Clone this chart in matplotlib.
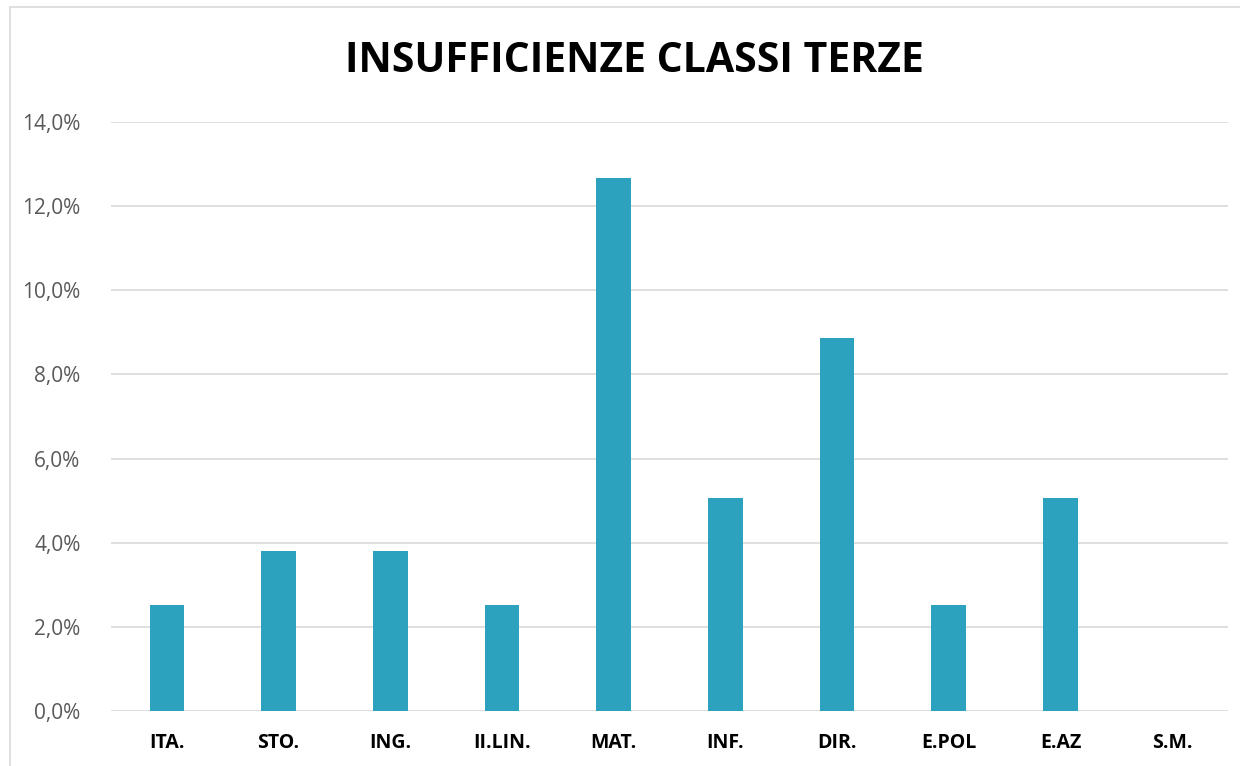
import matplotlib
matplotlib.use("Agg")
import matplotlib.pyplot as plt
from matplotlib.patches import Rectangle
from matplotlib.ticker import FuncFormatter

categories = ["ITA.", "STO.", "ING.", "II.LIN.", "MAT.", "INF.", "DIR.", "E.POL", "E.AZ", "S.M."]
values = [2.53, 3.80, 3.80, 2.53, 12.66, 5.06, 8.86, 2.53, 5.06, 0.0]

W, H = 1240, 766
fig = plt.figure(figsize=(W / 100, H / 100), dpi=100)
plt.rcParams['font.family'] = ['Open Sans', 'DejaVu Sans']

# chart frame
fig.patches.append(Rectangle((10 / W, -0.01), 1.02, 1 - 7 / H + 0.01, transform=fig.transFigure,
                             fill=False, edgecolor="#D9D9D9", linewidth=1.2))

ax = fig.add_axes([111 / W, 1 - 711 / H, (1228 - 111) / W, (711 - 122) / H])
x = range(len(categories))
ax.bar(x, values, width=0.31, color="#2CA2BF", zorder=3)

ax.set_xlim(-0.5, len(categories) - 0.5)
ax.set_ylim(0, 14)
ax.set_yticks(range(0, 15, 2))
ax.yaxis.set_major_formatter(FuncFormatter(lambda v, p: ("%.1f%%" % v).replace(".", ",")))
ax.set_xticks(list(x))
ax.set_xticklabels(categories, fontweight="bold", fontsize=14, color="black")
ax.tick_params(axis="y", labelsize=15, labelcolor="#595959", length=0, pad=22)
ax.tick_params(axis="x", length=0, pad=16)
ax.grid(axis="y", color="#D9D9D9", linewidth=1.2, zorder=0)
for s in ax.spines.values():
    s.set_visible(False)

fig.text(634 / W, 1 - 62 / H, "INSUFFICIENZE CLASSI TERZE", ha="center", va="center",
         fontsize=29.5, fontweight="bold", color="black")

fig.savefig("out.png", dpi=100)
